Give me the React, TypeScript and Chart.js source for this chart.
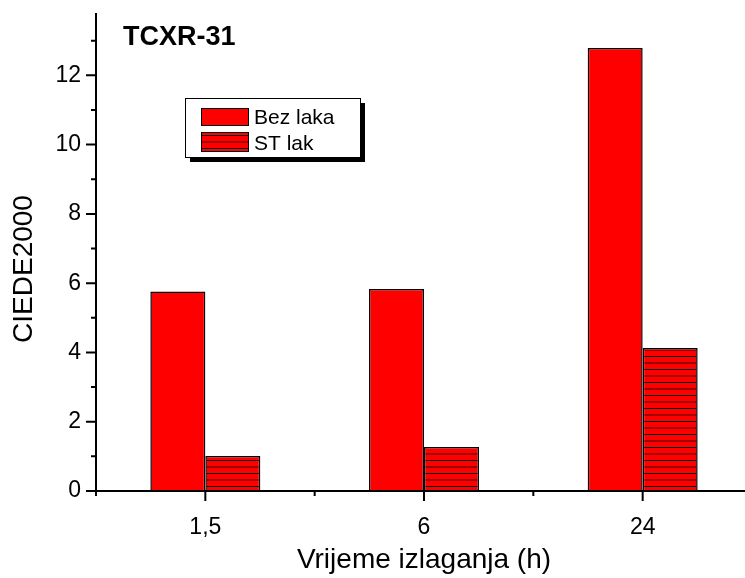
import React, { useEffect, useRef } from 'react';
import { Chart, registerables } from 'chart.js';

Chart.register(...registerables);

// ---- data ----
const categories = ['1,5', '6', '24'];
const bezLaka = [5.76, 5.83, 12.79];
const stLak = [1.01, 1.27, 4.13];
const seriesNames = ['Bez laka', 'ST lak'];
const chartTitle = 'TCXR-31';
const xAxisTitle = 'Vrijeme izlaganja (h)';
const yAxisTitle = 'CIEDE2000';
const yMin = 0;
const yMax = 13.8;
const yMajorStep = 2;
const yMinorStep = 1;

const FONT = 'Arial, "Liberation Sans", sans-serif';
const W = 756;
const H = 578;

function makeHatch(): CanvasPattern | string {
  const c = document.createElement('canvas');
  c.width = 8;
  c.height = 13;
  const g = c.getContext('2d');
  if (!g) return '#ff0000';
  g.fillStyle = '#ff0000';
  g.fillRect(0, 0, 8, 13);
  g.fillStyle = '#000000';
  g.fillRect(0, 5, 8, 1);
  g.fillStyle = '#a00000';
  g.fillRect(0, 11, 8, 2);
  const p = g.createPattern(c, 'repeat');
  return p || '#ff0000';
}

export default function App() {
  const ref = useRef<HTMLCanvasElement | null>(null);

  useEffect(() => {
    const canvas = ref.current;
    if (!canvas) return;
    const hatch = makeHatch();

    const decor = {
      id: 'decor',
      afterDraw(chart: any) {
        const { ctx, chartArea: ca, scales } = chart;
        const x = scales.x;
        const y = scales.y;
        ctx.save();
        ctx.strokeStyle = '#000';
        ctx.lineWidth = 2;
        ctx.lineCap = 'butt';
        ctx.beginPath();
        // axis lines
        ctx.moveTo(ca.left, ca.top);
        ctx.lineTo(ca.left, ca.bottom + 1);
        ctx.moveTo(ca.left - 1, ca.bottom);
        ctx.lineTo(ca.right, ca.bottom);
        // y ticks
        for (let v = yMin; v <= yMax + 1e-9; v += yMinorStep) {
          const py = y.getPixelForValue(v);
          const len = v % yMajorStep === 0 ? 10 : 5;
          ctx.moveTo(ca.left - len, py);
          ctx.lineTo(ca.left, py);
        }
        // x ticks
        const cw = x.getPixelForValue(1) - x.getPixelForValue(0);
        categories.forEach((_, i) => {
          const px = x.getPixelForValue(i);
          ctx.moveTo(px, ca.bottom);
          ctx.lineTo(px, ca.bottom + 10);
          ctx.moveTo(px - cw / 2, ca.bottom);
          ctx.lineTo(px - cw / 2, ca.bottom + 5);
          if (i === categories.length - 1) {
            ctx.moveTo(px + cw / 2, ca.bottom);
            ctx.lineTo(px + cw / 2, ca.bottom + 5);
          }
        });
        ctx.stroke();

        // chart title
        ctx.fillStyle = '#000';
        ctx.font = `bold 27px ${FONT}`;
        ctx.textAlign = 'left';
        ctx.textBaseline = 'alphabetic';
        ctx.fillText(chartTitle, 123, 45);

        // axis titles
        ctx.font = `28px ${FONT}`;
        ctx.textAlign = 'center';
        ctx.fillText(xAxisTitle, (ca.left + ca.right) / 2, 568);
        ctx.save();
        ctx.translate(24, 269);
        ctx.rotate(-Math.PI / 2);
        ctx.textBaseline = 'middle';
        ctx.fillText(yAxisTitle, 0, 0);
        ctx.restore();

        // legend
        const lx = 185, ly = 98, lw = 175, lh = 59;
        ctx.fillStyle = '#000';
        ctx.fillRect(lx + 5, ly + 5, lw, lh);
        ctx.fillStyle = '#fff';
        ctx.fillRect(lx, ly, lw, lh);
        ctx.lineWidth = 1;
        ctx.strokeStyle = '#000';
        ctx.strokeRect(lx + 0.5, ly + 0.5, lw, lh);
        const fills = ['#ff0000', hatch];
        const rows = [[108, 17], [132, 19]];
        ctx.font = `21px ${FONT}`;
        ctx.textAlign = 'left';
        ctx.textBaseline = 'alphabetic';
        seriesNames.forEach((name, i) => {
          const [ry, rh] = rows[i];
          ctx.fillStyle = fills[i] as any;
          ctx.fillRect(201, ry, 47, rh);
          ctx.strokeRect(201.5, ry + 0.5, 47, rh);
          ctx.fillStyle = '#000';
          ctx.fillText(name, 254, ry + 16 + i * 2);
        });
        ctx.restore();
      },
    };

    const chart = new Chart(canvas, {
      type: 'bar',
      data: {
        labels: categories,
        datasets: [
          {
            label: seriesNames[0],
            data: bezLaka,
            backgroundColor: '#ff0000',
            borderColor: '#000000',
            borderWidth: 1.5,
            categoryPercentage: 0.503,
            barPercentage: 1,
          },
          {
            label: seriesNames[1],
            data: stLak,
            backgroundColor: hatch as any,
            borderColor: '#000000',
            borderWidth: 1.5,
            categoryPercentage: 0.503,
            barPercentage: 1,
          },
        ],
      },
      options: {
        responsive: false,
        maintainAspectRatio: false,
        devicePixelRatio: 1,
        animation: false,
        layout: { padding: { top: 13, right: 4, bottom: 0, left: 0 } },
        plugins: {
          legend: { display: false },
          tooltip: { enabled: false },
          title: { display: false },
        },
        scales: {
          x: {
            type: 'category',
            offset: true,
            grid: { display: false, drawTicks: false },
            border: { display: false },
            ticks: {
              color: '#000',
              font: { family: FONT, size: 23 },
              padding: 23,
              maxRotation: 0,
              autoSkip: false,
            },
            afterFit: (s: any) => {
              s.height = H - 491;
              s.paddingLeft = 0;
              s.paddingRight = 0;
            },
          },
          y: {
            type: 'linear',
            min: yMin,
            max: yMax,
            grid: { display: false, drawTicks: false },
            border: { display: false },
            ticks: {
              stepSize: yMajorStep,
              includeBounds: false,
              color: '#000',
              font: { family: FONT, size: 23 },
              padding: 15,
              autoSkip: false,
            },
            afterFit: (s: any) => {
              s.width = 96;
              s.paddingTop = 0;
              s.paddingBottom = 0;
            },
          },
        },
      },
      plugins: [decor],
    });

    return () => chart.destroy();
  }, []);

  return (
    <div
      style={{
        position: 'fixed',
        left: 0,
        top: 0,
        width: 745,
        height: 578,
        overflow: 'hidden',
        background: '#fff',
      }}
    >
      <canvas ref={ref} width={W} height={H} style={{ display: 'block', width: W, height: H }} />
    </div>
  );
}
